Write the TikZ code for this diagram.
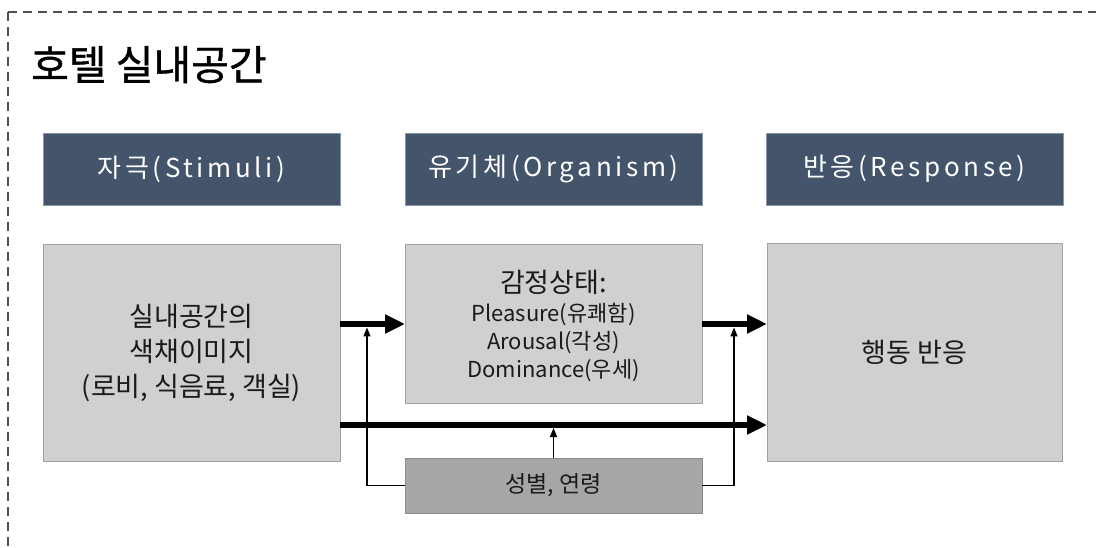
\documentclass[tikz,border=0pt]{standalone}
\usepackage{fontspec}
\setmainfont{Noto Sans CJK KR}
\newfontfamily\hdrfont[LetterSpace=14]{Noto Sans CJK KR}
\newfontfamily\titlefont[FakeBold=1]{Noto Sans CJK KR}
\usetikzlibrary{arrows.meta}
\definecolor{hdrblue}{HTML}{44546A}
\definecolor{hdredge}{HTML}{8A96A6}
\definecolor{boxgray}{HTML}{D0D0D0}
\definecolor{boxedge}{HTML}{A0A0A0}
\definecolor{darkbox}{HTML}{A6A6A6}
\definecolor{darkedge}{HTML}{8C8C8C}
\definecolor{dashcol}{HTML}{505050}
\definecolor{txt}{HTML}{1A1A1A}
\begin{document}
\begin{tikzpicture}[x=1pt,y=-1pt,
  hdrbox/.style={rectangle,fill=hdrblue,draw=hdredge,line width=0.6pt,inner sep=0pt,outer sep=0pt,
    minimum width=297pt,minimum height=72pt,text=white,font=\hdrfont\fontsize{26}{30}\selectfont},
  graybox/.style={rectangle,fill=boxgray,draw=boxedge,line width=1pt,inner sep=0pt,outer sep=0pt,
    minimum width=297pt,text=txt,align=center,font=\fontsize{27}{35}\selectfont},
  darkbox/.style={rectangle,fill=darkbox,draw=darkedge,line width=1pt,inner sep=0pt,outer sep=0pt,
    minimum width=297pt,minimum height=55pt,text=txt,font=\fontsize{23}{27}\selectfont},
  txtline/.style={inner sep=0pt,text=txt},
  bigarrow/.style={line width=5.5pt,-{Triangle[length=20pt,width=18pt]}},
  smallarrow/.style={line width=1.5pt,-{Triangle[length=9pt,width=7pt]}},
  border/.style={draw=dashcol,line width=1.6pt,dash pattern=on 9pt off 6pt}
]
\useasboundingbox (0,0) rectangle (1096,548);
\fill[white] (0,0) rectangle (1096,548);

% dashed frame (top and left only visible)
\draw[border] (8,12) -- (1096,12);
\draw[border] (8,12) -- (8,548);

% title
\node[anchor=base west,inner sep=0pt,text=black,font=\titlefont\fontsize{41}{46}\selectfont] (title) at (31,80) {호텔 실내공간};

% headers
\node[hdrbox] (h1) at (191.5,169) {자극(Stimuli)};
\node[hdrbox] (h2) at (553.5,169) {유기체(Organism)};
\node[hdrbox] (h3) at (914.5,169) {반응(Response)};

% content boxes
\node[graybox,minimum height=216pt] (b1) at (191.5,353) {실내공간의\\색채이미지\\(로비, 식음료, 객실)};
\node[graybox,minimum height=158pt] (b2) at (553.5,324) {};
\node[graybox,minimum height=217pt,minimum width=295pt] (b3) at (914.5,352.5) {행동 반응};
\node[darkbox] (b4) at (553.5,485.5) {성별, 연령};

% text inside organism box
\node[txtline,font=\fontsize{27}{30}\selectfont] (gam) at (553.5,282) {감정상태:};
\node[txtline,font=\fontsize{22}{26}\selectfont] (p1) at (553.5,314) {Pleasure(유쾌함)};
\node[txtline,font=\fontsize{22}{26}\selectfont] (p2) at (553.5,342.5) {Arousal(각성)};
\node[txtline,font=\fontsize{22}{26}\selectfont] (p3) at (553.5,371) {Dominance(우세)};

% helper coordinates
\coordinate (lowrow) at (0,425);
\coordinate (tl) at (367,327.5);
\coordinate (tr) at (734,327.5);
\coordinate (tm) at (553.5,428);

% thick arrows
\draw[bigarrow] (b1.east |- b2.west) -- (b2.west);
\draw[bigarrow] (b2.east) -- (b3.west |- b2.east);
\draw[bigarrow] (b1.east |- lowrow) -- (b3.west |- lowrow);

% thin moderating arrows
\draw[smallarrow] (b4.west) -| (tl);
\draw[smallarrow] (b4.east) -| (tr);
\draw[smallarrow] (b4.north) -- (tm);
\end{tikzpicture}
\end{document}
